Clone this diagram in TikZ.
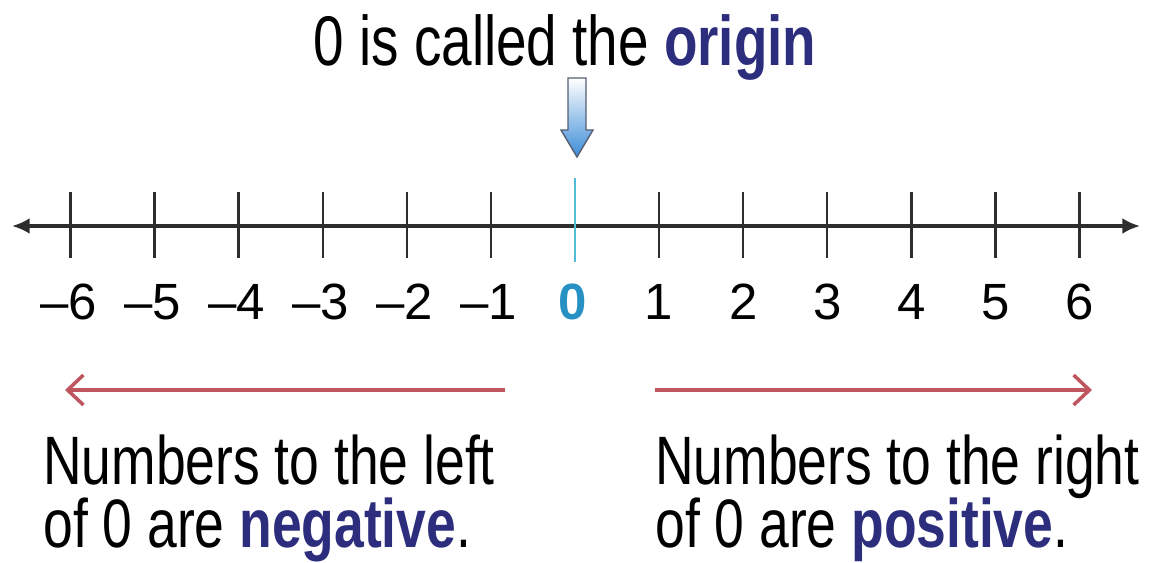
\documentclass[tikz,border=0pt]{standalone}
\usepackage{fontspec}
\setmainfont{Liberation Sans}
\newfontfamily\narrowfont[FakeStretch=0.78]{Liberation Sans}
\usepackage{tikz}
\usetikzlibrary{arrows.meta, positioning, calc}
\definecolor{axisgray}{RGB}{45, 45, 45}
\definecolor{origincyan}{RGB}{80, 190, 215}
\definecolor{zeroblue}{RGB}{40, 145, 195}
\definecolor{wordnavy}{RGB}{45, 45, 125}
\definecolor{dirred}{RGB}{190, 85, 95}
\definecolor{arrowblue}{RGB}{60, 140, 215}
\definecolor{arrowedge}{RGB}{85, 95, 115}

\begin{document}
\begin{tikzpicture}[
      x=0.02cm, y=-0.02cm,
      axis/.style={line width=1.9pt, color=axisgray,
                   {Latex[length=10pt, width=9pt]}-{Latex[length=10pt, width=9pt]}},
      tick/.style={line width=1.3pt, color=axisgray},
      numlbl/.style={anchor=base, inner sep=0pt,
                     font=\fontsize{29}{34}\selectfont},
      txt/.style={anchor=base west, inner sep=0pt,
                  font=\narrowfont\fontsize{39}{46}\selectfont},
      dirarrow/.style={line width=2pt, color=dirred,
                       -{Straight Barb[length=9pt, width=17pt]}},
  ]
  \useasboundingbox (0,0) rectangle (1156,563);
  % heading
  \node[anchor=base, inner sep=0pt,
        font=\narrowfont\fontsize{40}{46}\selectfont] (title)
      at (565, 66) {0 is called the \textcolor{wordnavy}{\bfseries origin}};
  % hollow pointer
  \shade[top color=white, bottom color=arrowblue, draw=arrowedge,
         line width=0.8pt]
      (568,78) -- (586,78) -- (586,130) -- (593,130) -- (577,157)
      -- (561,130) -- (568,130) -- cycle;
  % number line
  \coordinate (axL) at (12, 226);
  \coordinate (axR) at (1140, 226);
  \draw[axis] (axL) -- (axR);
  \foreach \i in {1,...,6} {
    \draw[tick] (575+84.1*\i, 192) -- (575+84.1*\i, 258);
    \draw[tick] (575-84.1*\i, 192) -- (575-84.1*\i, 258);
    \node[numlbl] (p\i) at (575+84.1*\i, 320) {\i};
    \node[numlbl] (m\i) at (573-84.1*\i, 320) {–\i};
  }
  \draw[line width=1.3pt, color=origincyan] (575, 178) -- (575, 262);
  \node[numlbl, color=zeroblue, font=\fontsize{29}{34}\selectfont\bfseries]
      (zero) at (573, 320) {0};
  % directions
  \coordinate (negS) at (505, 390);
  \coordinate (negE) at (65, 390);
  \coordinate (posS) at (655, 390);
  \coordinate (posE) at (1092, 390);
  \draw[dirarrow] (negS) -- (negE);
  \draw[dirarrow] (posS) -- (posE);
  \node[txt] (neg1) at (43, 485) {Numbers to the left};
  \node[txt] (neg2) at (43, 547)
      {of 0 are \textcolor{wordnavy}{\bfseries negative}.};
  \node[txt] (pos1) at (655, 485) {Numbers to the right};
  \node[txt] (pos2) at (655, 547)
      {of 0 are \textcolor{wordnavy}{\bfseries positive}.};
\end{tikzpicture}
\end{document}
